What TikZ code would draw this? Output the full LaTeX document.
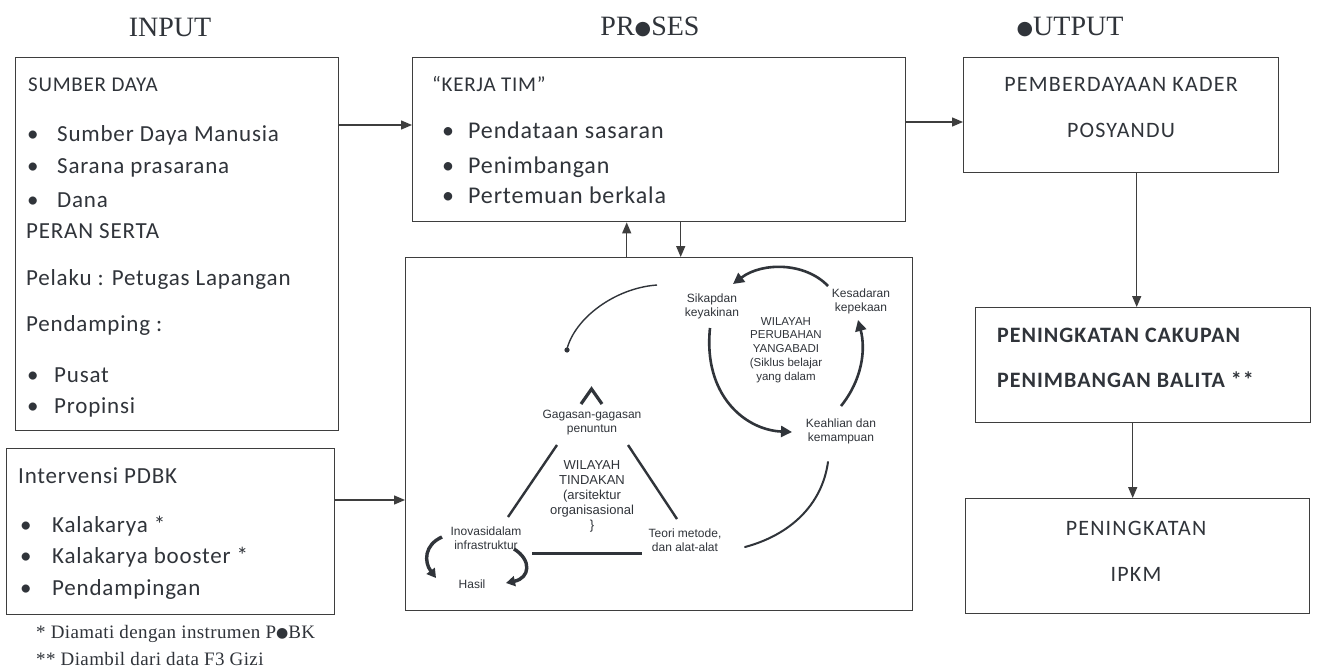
\documentclass[tikz,border=0pt]{standalone}
\usepackage{fontspec}
\setmainfont{Carlito}
\newfontfamily\serifx{Liberation Serif}
\newfontfamily\dotf{DejaVu Sans}
\newfontfamily\smallsans{Liberation Sans}
\usetikzlibrary{arrows.meta,calc}
\definecolor{ink}{RGB}{48,52,58}
\definecolor{frame}{RGB}{62,62,62}
\newcommand{\bdot}{{\dotf\fontsize{19}{19}\selectfont\raisebox{1pt}{●}}}
\newcommand{\fdot}{{\dotf\fontsize{14}{14}\selectfont\raisebox{0.5pt}{●}}}
\begin{document}
\begin{tikzpicture}[x=1pt,y=-1pt,
  box/.style={draw=frame,line width=1.4pt,anchor=north west,inner sep=0,fill=white},
  txt/.style={anchor=base west,inner sep=0,text=ink,font=\fontsize{23}{26}\selectfont\addfontfeatures{LetterSpace=3.5}},
  ktxt/.style={anchor=base west,inner sep=0,text=ink,font=\fontsize{24}{26}\selectfont\addfontfeatures{LetterSpace=3.5}},
  ctxt/.style={anchor=base,inner sep=0,text=ink,font=\fontsize{22}{26}\selectfont\addfontfeatures{LetterSpace=5.5}},
  btxt/.style={anchor=base west,inner sep=0,text=ink,font=\fontsize{22}{26}\selectfont\bfseries\addfontfeatures{LetterSpace=4.5}},
  ttl/.style={anchor=base,inner sep=0,text=ink,font=\serifx\fontsize{28}{30}\selectfont},
  foot/.style={anchor=base west,inner sep=0,text=ink,font=\serifx\fontsize{19}{22}\selectfont\addfontfeatures{LetterSpace=2}},
  arr/.style={draw=frame,line width=1.4pt,-{Triangle[length=11pt,width=9pt]}},
  lbl/.style={align=center,inner sep=0,text=ink,font=\smallsans\fontsize{12}{14}\selectfont},
  lblb/.style={align=center,inner sep=0,text=ink,font=\smallsans\fontsize{13}{15}\selectfont},
  cyc/.style={draw=ink,line width=2.6pt,-{Triangle[length=11pt,width=11pt]}},
  thk/.style={draw=ink,line width=2.4pt}
]
\useasboundingbox (0,0) rectangle (1318,669);
\fill[white] (0,0) rectangle (1318,669);

% titles
\node[ttl] (tin) at (170,37) {INPUT};
\node[ttl] (tpr) at (650,36) {PR\bdot SES};
\node[ttl] (tou) at (1070,36) {\bdot UTPUT};

% boxes
\node[box,minimum width=323pt,minimum height=373pt] (sd) at (15,57) {};
\node[box,minimum width=328pt,minimum height=166pt] (iv) at (6,448) {};
\node[box,minimum width=493pt,minimum height=164pt] (kt) at (412,57) {};
\node[box,minimum width=507pt,minimum height=353pt] (bb) at (405,257) {};
\node[box,minimum width=315pt,minimum height=115pt] (pm) at (963,57) {};
\node[box,minimum width=335pt,minimum height=115pt] (c2) at (975,307) {};
\node[box,minimum width=344pt,minimum height=115pt] (c3) at (965,498) {};

% SUMBER DAYA texts
\node[txt,font=\fontsize{21}{26}\selectfont\addfontfeatures{LetterSpace=3.5}] (s0) at (28,92) {SUMBER DAYA};
\node[txt] (s1) at (27,141) {\makebox[30pt][l]{\textbullet}Sumber Daya Manusia};
\node[txt] (s2) at (27,173) {\makebox[30pt][l]{\textbullet}Sarana prasarana};
\node[txt] (s3) at (27,207) {\makebox[30pt][l]{\textbullet}Dana};
\node[txt] (s4) at (26,238) {PERAN SERTA};
\node[txt] (s5) at (26,285) {Pelaku : Petugas Lapangan};
\node[txt] (s6) at (26,331) {Pendamping :};
\node[txt] (s7) at (27,382) {\makebox[27pt][l]{\textbullet}Pusat};
\node[txt] (s8) at (27,413) {\makebox[27pt][l]{\textbullet}Propinsi};

% Intervensi texts
\node[txt] (i0) at (18,483) {Intervensi PDBK};
\node[txt] (i1) at (20,532) {\makebox[32pt][l]{\textbullet}Kalakarya *};
\node[txt] (i2) at (20,563) {\makebox[32pt][l]{\textbullet}Kalakarya booster *};
\node[txt] (i3) at (20,595) {\makebox[32pt][l]{\textbullet}Pendampingan};

% footnotes
\node[foot] (f1) at (36,638) {* Diamati dengan instrumen P\fdot BK};
\node[foot] (f2) at (36,665) {** Diambil dari data F3 Gizi};

% KERJA TIM texts
\node[txt,font=\fontsize{21}{26}\selectfont\addfontfeatures{LetterSpace=3.5}] (k0) at (432,92) {``KERJA TIM''};
\node[ktxt] (k1) at (442,138) {\makebox[26pt][l]{\textbullet}Pendataan sasaran};
\node[ktxt] (k2) at (442,173) {\makebox[26pt][l]{\textbullet}Penimbangan};
\node[ktxt] (k3) at (442,203) {\makebox[26pt][l]{\textbullet}Pertemuan berkala};

% output texts
\node[ctxt] (p1) at (1121,92) {PEMBERDAYAAN KADER};
\node[ctxt] (p2) at (1121,137) {POSYANDU};
\node[btxt] (q1) at (997,342) {PENINGKATAN CAKUPAN};
\node[btxt] (q2) at (997,387) {PENIMBANGAN BALITA **};
\node[ctxt] (r1) at (1136,535) {PENINGKATAN};
\node[ctxt] (r2) at (1136,581) {IPKM};

% connectors
\draw[arr] ([yshift=-68pt]sd.north east) -- ([yshift=-68pt]kt.north west);
\draw[arr] ([yshift=-52pt]iv.north east) -- ([yshift=-52pt]iv.north east -| bb.west);
\draw[arr] ([yshift=-65pt]kt.north east) -- ([yshift=-65pt]pm.north west);
\draw[arr] ([xshift=-32.5pt]bb.north) -- ([xshift=-32.5pt]kt.south);
\draw[arr] ([xshift=21.5pt]kt.south) -- ([xshift=21.5pt]bb.north);
\draw[arr] ([xshift=15.5pt]pm.south) -- ([xshift=15.5pt]pm.south |- c2.north);
\draw[arr] ([xshift=-10.5pt]c2.south) -- ([xshift=-10.5pt]c2.south |- c3.north);

% ---- inner diagram ----
% change cycle
\node[lbl] (sik) at (712,306) {Sikapdan\\keyakinan};
\node[lbl] (kes) at (861,301) {Kesadaran\\kepekaan};
\node[lbl] (kea) at (841,431) {Keahlian dan\\kemampuan};
\node[lbl,font=\smallsans\fontsize{11.5}{13.8}\selectfont] (wp) at (786,350) {WILAYAH\\PERUBAHAN\\YANGABADI\\(Siklus belajar\\yang dalam};
\draw[cyc] (828,286) .. controls (805,262) and (762,262) .. (733,284);
\draw[cyc] (710,328) .. controls (703,395) and (745,430) .. (792,432);
\draw[cyc] (841,406) .. controls (862,380) and (866,350) .. (858,320);
\draw[draw=ink,line width=2pt,line cap=round] (828,462) .. controls (822,505) and (790,535) .. (745,547);
% top-left arc with dot
\draw[draw=ink,line width=1.4pt] (657,285) .. controls (615,288) and (575,318) .. (567,349);
\fill[ink] (567,350) circle (2.6pt);

% action triangle
\draw[draw=ink,line width=3.2pt,line join=miter] (581,404) -- (591.5,389) -- (602,404);
\node[lbl] (gag) at (592,423) {Gagasan-gagasan\\penuntun};
\node[lblb] (wt) at (592,496) {WILAYAH\\TINDAKAN\\(arsitektur\\organisasional\\\}};
\node[lbl] (ino) at (486,538) {Inovasidalam\\infrastruktur};
\node[lbl] (teo) at (685,540) {Teori metode,\\dan alat-alat};
\node[lbl] (has) at (472,584) {Hasil};
\draw[thk] (557,445) -- (508,517);
\draw[thk] (628,445) -- (677,519);
\draw[draw=ink,line width=3pt] (532,553) -- (642,553);
\draw[draw=ink,line width=3.4pt,-{Triangle[length=9pt,width=10pt]}] (442,537) .. controls (424,545) and (424,562) .. (436,578);
\draw[draw=ink,line width=3.4pt,-{Triangle[length=9pt,width=10pt]}] (514,549) .. controls (532,560) and (530,578) .. (506,583);
\end{tikzpicture}
\end{document}
